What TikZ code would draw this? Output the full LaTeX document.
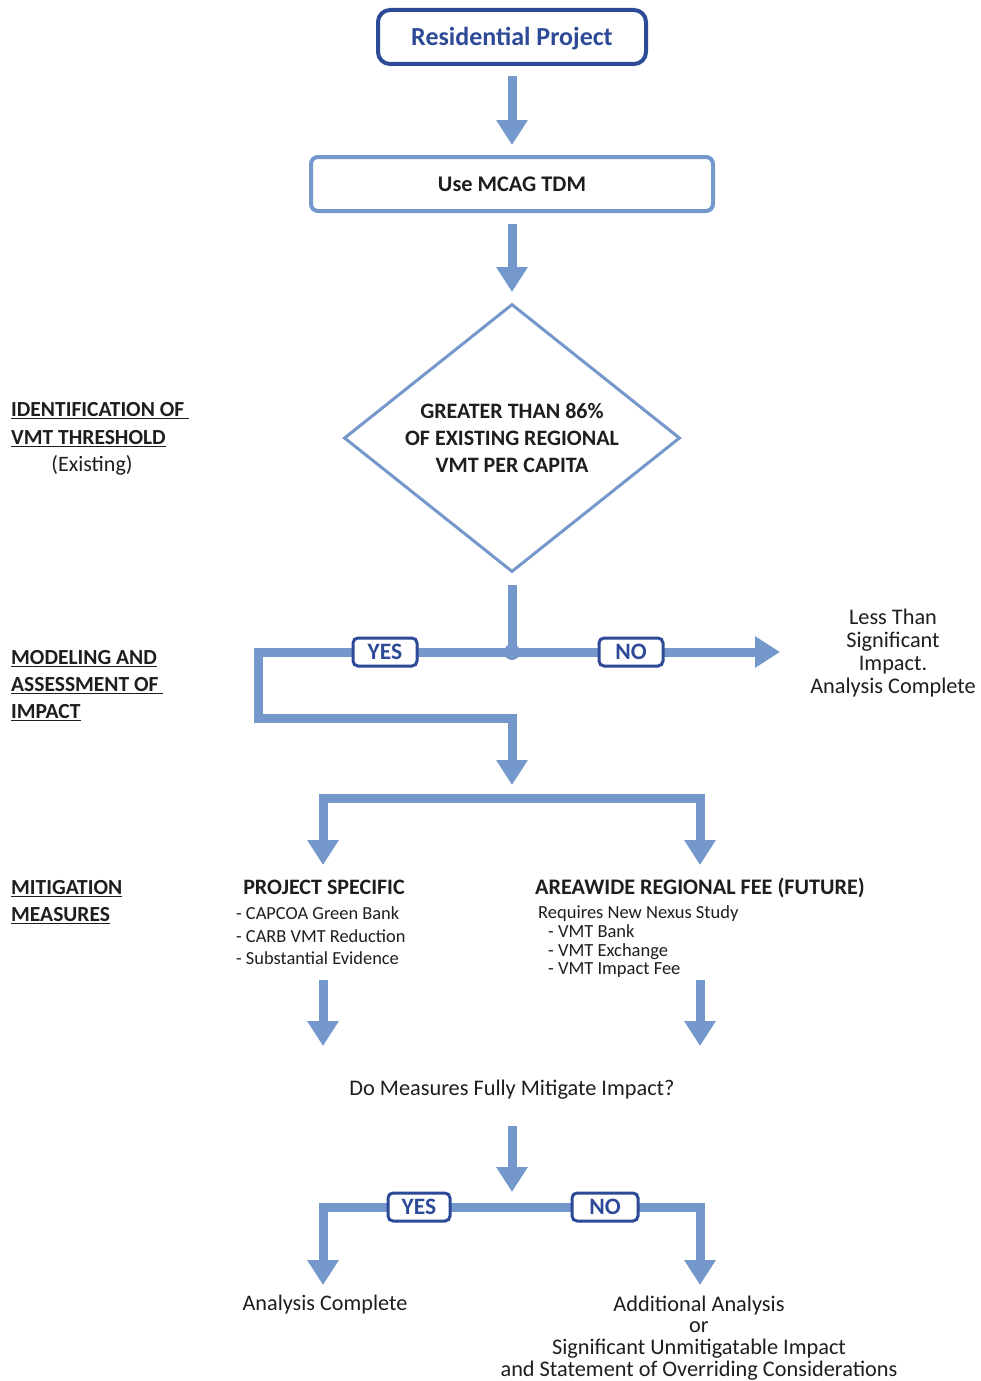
\documentclass[tikz,border=0pt]{standalone}
\usepackage{fontspec}
\setmainfont{Carlito}
\usetikzlibrary{arrows.meta,shapes.geometric}
\definecolor{flowblue}{RGB}{116,152,204}
\definecolor{navy}{RGB}{44,74,150}
\definecolor{ink}{RGB}{30,30,30}
\newcommand{\ulab}[1]{\underline{#1}}
\tikzset{
  flow/.style={draw=flowblue, line width=9pt, line join=miter, -{Triangle[width=30pt,length=25pt]}},
  flowtwo/.style={draw=flowblue, line width=9pt, line join=miter, {Triangle[width=30pt,length=25pt]}-{Triangle[width=30pt,length=25pt]}},
  bar/.style={draw=flowblue, line width=9pt, line join=miter},
  tag/.style={draw=navy, line width=3pt, fill=white, rounded corners=5pt, minimum width=64pt, minimum height=28pt, inner sep=0pt, text=navy, font=\fontsize{23.5}{23.5}\selectfont\bfseries},
  txt/.style={inner sep=0pt, text=ink, align=center},
  head/.style={inner sep=0pt, text=ink, align=left, font=\fontsize{21.5}{27.5}\selectfont\bfseries},
}
\begin{document}
\begin{tikzpicture}[x=1pt,y=-1pt]
\useasboundingbox (0,0) rectangle (980,1381);
\fill[white] (0,0) rectangle (980,1381);

% top boxes
\node[draw=navy, line width=4pt, rounded corners=12pt, minimum width=268pt, minimum height=54pt, inner sep=0pt,
      text height=16.8pt, text depth=0pt,
      text=navy, font=\fontsize{26}{26}\selectfont\bfseries] (res) at (512,37) {Residential Project};
\node[draw=flowblue, line width=4pt, rounded corners=7pt, minimum width=402pt, minimum height=54pt, inner sep=0pt,
      text=ink, font=\fontsize{22.3}{22.3}\selectfont\bfseries] (tdm) at (512,184) {Use MCAG TDM};
\node[draw=flowblue, line width=3pt, shape=diamond, minimum width=336pt, minimum height=268pt, inner sep=0pt] (dia) at (512,438) {};
\node[txt, font=\fontsize{22}{27}\selectfont\bfseries] (diat) at (dia.center)
      {GREATER THAN 86\%\\OF EXISTING REGIONAL\\VMT PER CAPITA};

\coordinate (a1s) at (512,76);  \coordinate (a1e) at (512,145);
\coordinate (a2s) at (512,224); \coordinate (a2e) at (512,292);
\draw[flow] (a1s) -- (a1e);
\draw[flow] (a2s) -- (a2e);

% first decision
\coordinate (dtop) at (512,585);
\coordinate (j1) at (512,652);
\coordinate (yl) at (258,652);
\coordinate (yb) at (258,718);
\coordinate (yr) at (512,718);
\coordinate (ye) at (512,785);
\coordinate (ne) at (780,652);
\draw[bar] (dtop) -- (j1);
\draw[flow] (j1) -- (yl) -- (yb) -- (yr) -- (ye);
\draw[flow] (j1) -- (ne);
\fill[flowblue] (j1) circle (8pt);
\node[tag] (yes1) at (385,652) {YES};
\node[tag] (no1) at (631,652) {NO};
\node[txt, font=\fontsize{22.3}{23}\selectfont] (lts) at (893,653) {Less Than\\Significant\\Impact.\\Analysis Complete};

% split to mitigation options
\coordinate (s1l) at (323,865);
\coordinate (s1a) at (323,798);
\coordinate (s1b) at (700,798);
\coordinate (s1r) at (700,865);
\draw[flowtwo] (s1l) -- (s1a) -- (s1b) -- (s1r);

% mitigation options
\node[txt, font=\fontsize{22}{22}\selectfont\bfseries] (ps) at (324,887) {PROJECT SPECIFIC};
\node[txt, align=left, anchor=west, font=\fontsize{18.4}{22.5}\selectfont] (psl) at (236,936)
  {- CAPCOA Green Bank\\- CARB VMT Reduction\\- Substantial Evidence};
\node[txt, font=\fontsize{22.2}{22.2}\selectfont\bfseries] (arf) at (700,888) {AREAWIDE REGIONAL FEE (FUTURE)};
\node[txt, align=left, anchor=west, font=\fontsize{18.5}{18.7}\selectfont] (arl) at (538,942)
  {Requires New Nexus Study\\\hspace*{10pt}- VMT Bank\\\hspace*{10pt}- VMT Exchange\\\hspace*{10pt}- VMT Impact Fee};

\coordinate (m1s) at (323,980); \coordinate (m1e) at (323,1046);
\coordinate (m2s) at (700,980); \coordinate (m2e) at (700,1046);
\draw[flow] (m1s) -- (m1e);
\draw[flow] (m2s) -- (m2e);

\node[txt, font=\fontsize{22.3}{22.3}\selectfont] (q) at (512,1090) {Do Measures Fully Mitigate Impact?};
\coordinate (qs) at (512,1126); \coordinate (qe) at (512,1192);
\draw[flow] (qs) -- (qe);

% second decision
\coordinate (s2l) at (323,1285);
\coordinate (s2a) at (323,1207);
\coordinate (s2b) at (700,1207);
\coordinate (s2r) at (700,1285);
\draw[flowtwo] (s2l) -- (s2a) -- (s2b) -- (s2r);
\node[tag, minimum width=62pt] (yes2) at (419,1207) {YES};
\node[tag, minimum width=66pt] (no2) at (605,1207) {NO};

\node[txt, font=\fontsize{22.2}{22.2}\selectfont] (done) at (325,1305) {Analysis Complete};
\node[txt, font=\fontsize{22.3}{21.7}\selectfont] (more) at (699,1338)
  {Additional Analysis\\or\\Significant Unmitigatable Impact\\and Statement of Overriding Considerations};

% stage labels
\node[head, anchor=west] (l1) at (11,424.5) {\ulab{IDENTIFICATION OF\ }\\\ulab{VMT THRESHOLD}};
\node[txt, font=\fontsize{22}{22}\selectfont] (l1b) at (92,465) {(Existing)};
\node[head, anchor=west, font=\fontsize{21.5}{27}\selectfont\bfseries] (l2) at (11,686) {\ulab{MODELING AND}\\\ulab{ASSESSMENT OF\ }\\\ulab{IMPACT}};
\node[head, anchor=west, font=\fontsize{21.5}{27}\selectfont\bfseries] (l3) at (11,902) {\ulab{MITIGATION}\\\ulab{MEASURES}};
\end{tikzpicture}
\end{document}
